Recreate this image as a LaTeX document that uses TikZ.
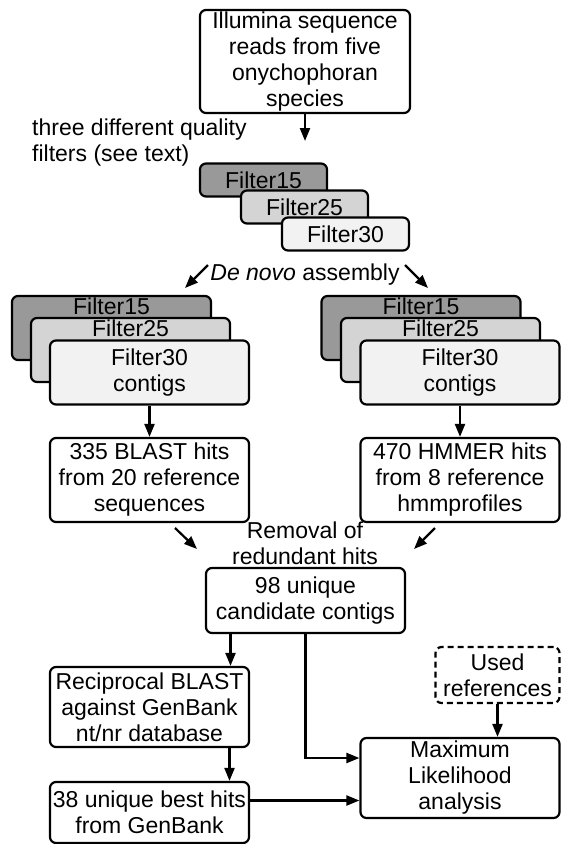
\documentclass[tikz,border=0pt]{standalone}
\usepackage{fontspec}
\setmainfont{Liberation Sans}
\usetikzlibrary{positioning,calc,arrows.meta}
\definecolor{fdark}{gray}{0.6}
\definecolor{fmid}{gray}{0.83}
\definecolor{flight}{gray}{0.95}

\begin{document}
\begin{tikzpicture}[
    x=1pt, y=-1pt,
    font=\fontsize{23}{26}\selectfont,
    box/.style={draw, line width=2.2pt, rounded corners=6pt, align=center, inner sep=1pt, fill=white},
    small/.style={box, minimum width=127pt, minimum height=33pt},
    stack/.style={box, minimum width=199pt, minimum height=64pt},
    top/.style={label={[anchor=base, yshift=-20pt, inner sep=0pt]north:#1}},
    arr/.style={-{Triangle[length=13pt, width=10pt]}, line width=2.2pt},
    lbl/.style={align=center, inner sep=1pt}
  ]
  \useasboundingbox (0,0) rectangle (560,844);
  % input reads and the three filters
  \node[box, minimum width=210pt, minimum height=103pt] (reads) at (305,61.5) {Illumina sequence\\reads from five\\onychophoran\\species};
  \node[lbl, align=left, anchor=west] (note) at (31,143) {three different quality\\filters (see text)};
  \node[small, fill=fdark] (f15) at (263.5,180) {Filter15};
  \node[small, fill=fmid] (f25) at (304.5,207) {Filter25};
  \node[small, fill=flight] (f30) at (345.5,234) {Filter30};
  \coordinate (filtin) at (305,141);
  \draw[arr] (reads.south) -- (filtin);
  % de novo assembly
  \node[lbl] (denovo) at (305,275) {\textit{De novo} assembly};
  \coordinate (dnl1) at (208,265);
  \coordinate (dnl2) at (185,288);
  \coordinate (dnr1) at (405,265);
  \coordinate (dnr2) at (428,288);
  \draw[arr] (dnl1) -- (dnl2);
  \draw[arr] (dnr1) -- (dnr2);
  % contig stacks
  \node[stack, fill=fdark, top=Filter15] (l15) at (111.5,328) {};
  \node[stack, fill=fmid, top=Filter25] (l25) at (130.5,350) {};
  \node[stack, fill=flight] (l30) at (149.5,372.5) {Filter30\\contigs};
  \node[stack, fill=fdark, top=Filter15] (r15) at (421,328) {};
  \node[stack, fill=fmid, top=Filter25] (r25) at (440.5,350) {};
  \node[stack, fill=flight] (r30) at (460,372.5) {Filter30\\contigs};
  % hits
  \node[box, minimum width=199pt, minimum height=84pt] (blast) at (149.5,480) {335 BLAST hits\\from 20 reference\\sequences};
  \node[box, minimum width=199pt, minimum height=84pt] (hmmer) at (460,480) {470 HMMER hits\\from 8 reference\\hmmprofiles};
  \draw[arr] (l30.south) -- (blast.north);
  \draw[arr] (r30.south) -- (hmmer.north);
  \node[lbl] (removal) at (305,543) {Removal of\\redundant hits};
  \coordinate (rml1) at (175,528);
  \coordinate (rml2) at (197,549);
  \coordinate (rmr1) at (435,528);
  \coordinate (rmr2) at (414,549);
  \draw[arr] (rml1) -- (rml2);
  \draw[arr] (rmr1) -- (rmr2);
  \node[box, minimum width=199pt, minimum height=65pt] (uniq) at (305.5,600.5) {98 unique\\candidate contigs};
  % GenBank check
  \node[box, minimum width=199pt, minimum height=80pt] (recip) at (149.5,707) {Reciprocal BLAST\\against GenBank\\nt/nr database};
  \node[box, minimum width=199pt, minimum height=61pt] (best) at (149.5,812.5) {38 unique best hits\\from GenBank};
  \node[box, dash pattern=on 6pt off 4pt, minimum width=124pt, minimum height=56pt] (used) at (497.5,675) {Used\\references};
  \node[box, minimum width=199pt, minimum height=80pt] (ml) at (460,778) {Maximum\\Likelihood\\analysis};
  \draw[arr] ([xshift=-75pt]uniq.south) -- ([xshift=-75pt]uniq.south |- recip.north);
  \draw[arr] ([xshift=80pt]recip.south) -- ([xshift=80pt]recip.south |- best.north);
  \draw[arr] (uniq.south) |- ([yshift=20pt]ml.west);
  \draw[arr] ([yshift=12pt]best.east) -- ([yshift=12pt]best.east -| ml.west);
  \draw[arr] (used.south) -- (used.south |- ml.north);
\end{tikzpicture}
\end{document}
